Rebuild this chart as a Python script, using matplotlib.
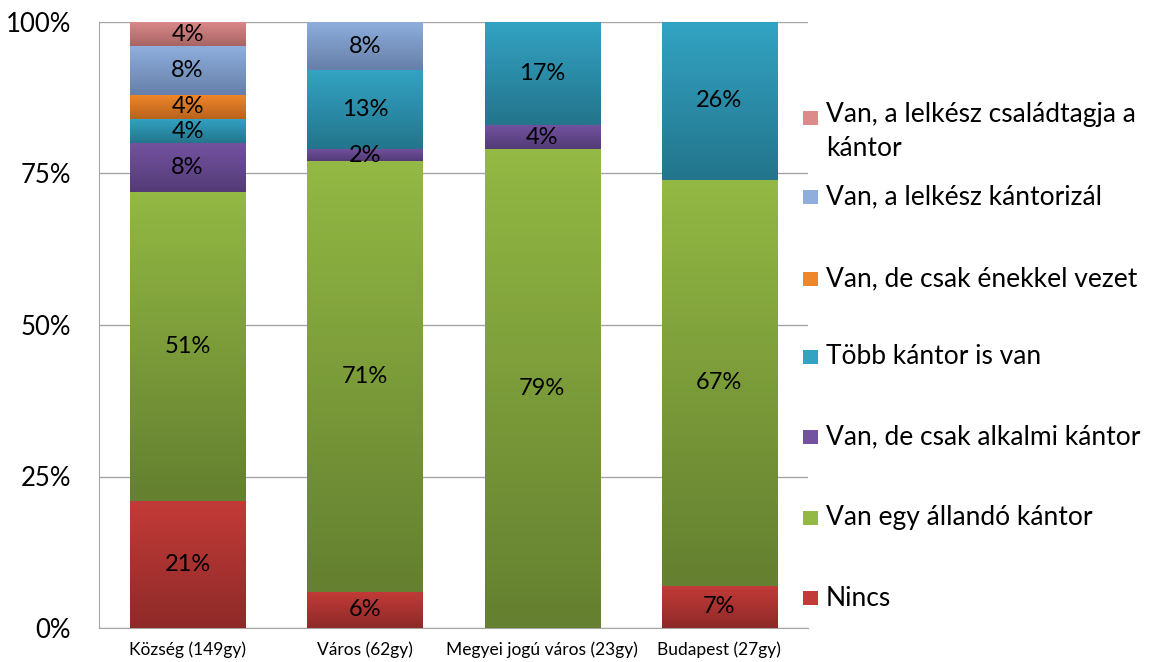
import numpy as np
import matplotlib
matplotlib.use("Agg")
import matplotlib.pyplot as plt
from matplotlib.colors import LinearSegmentedColormap
from matplotlib.patches import Rectangle

plt.rcParams['font.family'] = ['Lato', 'DejaVu Sans']

# adatok (%)
categories = ['Község (149gy)', 'Város (62gy)', 'Megyei jogú város (23gy)', 'Budapest (27gy)']
series_names = ['Nincs', 'Van egy állandó kántor', 'Van, de csak alkalmi kántor',
                'Több kántor is van', 'Van, de csak énekkel vezet',
                'Van, a lelkész kántorizál', 'Van, a lelkész családtagja a\nkántor']
nincs = [21, 6, 0, 7]
allando = [51, 71, 79, 67]
alkalmi = [8, 2, 4, 0]
tobb = [4, 13, 17, 26]
enekkel = [4, 0, 0, 0]
kantorizal = [8, 8, 0, 0]
csaladtag = [4, 0, 0, 0]
series = [nincs, allando, alkalmi, tobb, enekkel, kantorizal, csaladtag]

# színek: (világos felső, sötét alsó)
colors = [('#c33b38', '#8e2a28'),
          ('#93b843', '#648030'),
          ('#7352a0', '#533b76'),
          ('#33a3c3', '#23758c'),
          ('#f0862a', '#b8631c'),
          ('#8eaedc', '#6680aa'),
          ('#dc8a8a', '#a86464')]

W, H = 1157, 662
fig = plt.figure(figsize=(W / 100, H / 100), dpi=100)
ax = fig.add_axes([99 / W, 1 - 628 / H, 709 / W, 606 / H])

x = np.arange(len(categories))
bottom = np.zeros(len(categories))
for vals, (light, dark) in zip(series, colors):
    vals = np.array(vals, dtype=float)
    bars = ax.bar(x, vals, 0.65, bottom=bottom, color=light, linewidth=0, zorder=2)
    cmap = LinearSegmentedColormap.from_list('g', [dark, light])
    for b, v in zip(bars, vals):
        if v <= 0:
            continue
        bx, by, bw, bh = b.get_x(), b.get_y(), b.get_width(), b.get_height()
        grad = np.linspace(1, 0, 64).reshape(-1, 1)
        ax.imshow(grad, extent=[bx, bx + bw, by, by + bh], aspect='auto',
                  cmap=cmap, vmin=0, vmax=1, zorder=3, interpolation='bilinear')
        ax.text(bx + bw / 2, by + bh / 2, f'{int(v)}%', ha='center', va='center',
                fontsize=17, color='black', zorder=4)
    bottom += vals

ax.set_xlim(-0.5, 3.5)
ax.set_ylim(0, 100)
ax.set_yticks([0, 25, 50, 75, 100])
ax.set_yticklabels(['0%', '25%', '50%', '75%', '100%'], fontsize=18.5)
ax.set_xticks(x)
ax.set_xticklabels(categories, fontsize=12.5)
ax.tick_params(axis='y', length=0, pad=20)
ax.tick_params(axis='x', length=0, pad=10)
ax.yaxis.grid(True, color='#a6a6a6', linewidth=1)
ax.set_axisbelow(True)
for s in ['top', 'right']:
    ax.spines[s].set_visible(False)
ax.spines['left'].set_color('#a6a6a6')
ax.spines['bottom'].set_color('#a6a6a6')

# jelmagyarázat (kézzel, a felső elem elöl)
leg_y = [118, 197, 279, 357, 437, 518, 598]
for yy, name, (light, dark) in zip(leg_y, series_names[::-1], colors[::-1]):
    fig.patches.append(Rectangle((803 / W, 1 - (yy + 7) / H), 15 / W, 14 / H,
                                 transform=fig.transFigure, facecolor=light,
                                 edgecolor='none'))
    if '\n' in name:
        fig.text(826 / W, 1 - (yy - 16) / H, name, ha='left', va='top',
                 fontsize=19, linespacing=1.45)
    else:
        fig.text(826 / W, 1 - yy / H, name, ha='left', va='center', fontsize=19)

fig.savefig('out.png', dpi=100)
